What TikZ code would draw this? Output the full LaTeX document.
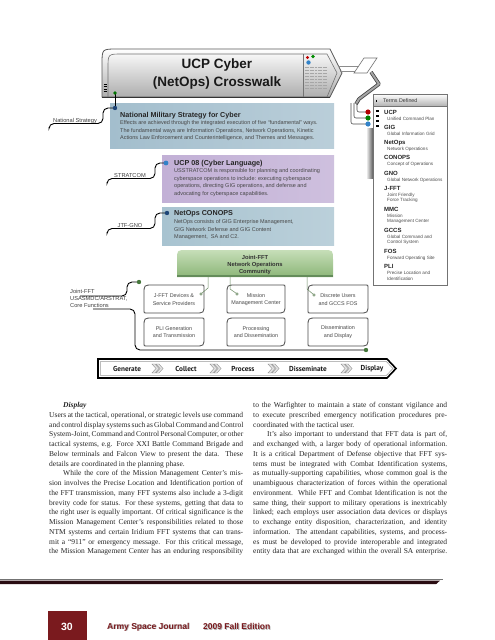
\documentclass[tikz,border=0pt]{standalone}
\usepackage{fontspec}
\setmainfont{Liberation Serif}
\newfontfamily\dsans{Liberation Sans}
\newfontfamily\ptsans{PT Sans}
\definecolor{bxblue}{RGB}{163,190,205}
\definecolor{bxpurple}{RGB}{194,176,214}
\definecolor{bxblueb}{RGB}{168,195,208}
\definecolor{grtop}{RGB}{198,222,184}
\definecolor{grbot}{RGB}{140,182,120}
\definecolor{grline}{RGB}{100,140,90}
\definecolor{mar}{RGB}{122,26,30}
\definecolor{rulec}{RGB}{42,12,18}
\definecolor{dotgreen}{RGB}{70,120,60}
\definecolor{dotblue}{RGB}{50,130,200}
\definecolor{dotnavy}{RGB}{30,70,120}
\newcommand{\jl}[1]{\makebox[194pt][s]{#1}}
\newcommand{\leafbox}[4]{%
  \draw[leafline] (#1,#2+9) .. controls (#1,#2) .. (#1+9,#2) -- (#3-2,#2)
    .. controls (#3,#2) .. (#3,#2+2) -- (#3,#4-9) .. controls (#3,#4) .. (#3-9,#4)
    -- (#1+2,#4) .. controls (#1,#4) .. (#1,#4-2) -- cycle;}
\newcommand{\chev}[1]{%
  \foreach \dx in {0,4}{\path[draw=black!45, fill=black!10, line width=0.4]
    (#1+\dx-4,364) -- (#1+\dx-1,364) -- (#1+\dx+3,368.5) -- (#1+\dx-1,373)
    -- (#1+\dx-4,373) -- (#1+\dx,368.5) -- cycle;}}
\newcommand{\term}[4]{%
  \node[termhd] (#1) at (384,#2+2.1) {#3};
  \node[termdef] (#1d) at (387,#2+4.5) {#4};}
\begin{document}
\begin{tikzpicture}[x=1pt,y=-1pt,
  lbl/.style={font=\dsans\fontsize{5.7}{7.3}\selectfont, text=black!75, inner sep=0},
  conn/.style={draw=black, line width=0.9, rounded corners=5},
  boxtitle/.style={font=\dsans\bfseries\fontsize{7.2}{8}\selectfont, text=black!85, inner sep=0, anchor=base west},
  boxbody/.style={font=\dsans\fontsize{5.5}{7.4}\selectfont, text=black!72, inner sep=0, anchor=north west, align=left},
  leafline/.style={draw=black!70, line width=0.8, fill=white},
  flowtxt/.style={font=\dsans\fontsize{5.4}{7.4}\selectfont, text=black!72, inner sep=0, align=center},
  barlbl/.style={font=\ptsans\bfseries\fontsize{7.2}{8}\selectfont, text=black!90, inner sep=0},
  termhd/.style={font=\dsans\bfseries\fontsize{6}{7}\selectfont, text=black!85, inner sep=0, anchor=base west},
  termdef/.style={font=\dsans\fontsize{4.6}{5.5}\selectfont, text=black!70, inner sep=0, anchor=north west, align=left},
  thin/.style={draw=grline!80!gray, line width=0.5},
  bodytxt/.style={font=\fontsize{7.5}{9.75}\selectfont, text=black!85, inner sep=0, anchor=north west, align=left}]
\useasboundingbox (0,0) rectangle (495,640);
\fill[white] (0,0) rectangle (495,640);

% ---------- title tab ----------
\path[draw=black!65, line width=0.8, top color=white, bottom color=black!32]
  (102,97) -- (102,64) .. controls (102,49) .. (117,49) -- (330,49) -- (342,73) -- (330,97) -- cycle;
\draw[black!55, line width=0.6]
  (108,97) -- (108,68) .. controls (108,54) .. (122,54) -- (327,54) -- (337,73) -- (327,97);
\draw[black!55, line width=0.6] (303,54) -- (303,97);
\draw[black!80, line width=1] (102,97) -- (330,97);
\foreach \yy in {84,86.5,89,91.5} \draw[black, line width=0.6] (103.5,\yy) -- (106.5,\yy);
% icon
\fill[red!75!black] (307.5,57.5) circle (1.6);
\fill[green!55!black] (313,56.5) circle (1.8);
\fill[dotblue] (308.5,62.5) circle (2.2);
\foreach \yy in {67,70,73,76,79,82,85,88} \draw[black!35, line width=0.6, dash pattern=on 2pt off 0.6pt] (304.5,\yy) -- (327,\yy);
\node[font=\dsans\bfseries\fontsize{13.5}{18}\selectfont, align=center, text=black!90] (title) at (217,74) {UCP Cyber\\(NetOps) Crosswalk};
% link to tab and cable
\draw[black!45, line width=0.6] (338,66) -- (359,66) (340,71) -- (356,71);
\path[draw=black!55, fill=white, line width=0.6] (354,73) -- (364,58) -- (377,58) -- (367,73) -- cycle;
\coordinate (cabA) at (371,72);
\coordinate (cabB) at (379,84);
\coordinate (cabC) at (359,99);
\coordinate (cabD) at (356,104);
\draw[black!75, line width=3.6, line join=round] (cabA) -- (cabB) -- (cabC) -- (cabD);
\draw[black!35, line width=2, line join=round] (cabA) -- (cabB) -- (cabC) -- (cabD);
\draw[black!70, line width=0.6, rounded corners=2] (357,103) -- (357,112) -- (368,112);
\draw[black!70, line width=0.6, rounded corners=2] (354,103) -- (354,118) -- (368,118);
\draw[black!70, line width=0.6, rounded corners=2] (351,103) -- (351,124) -- (368,124);

% ---------- terms box ----------
\shade[left color=white, right color=black!65] (366,128) rectangle (373,178);
\node[draw=black!55, line width=0.9, fill=white, minimum width=74pt, minimum height=191pt, anchor=north west, inner sep=0] (terms) at (373,94) {};
\path[top color=white, bottom color=black!30, draw=black!55, line width=0.6] (373,94) rectangle (447,106);
\fill[black] (375.8,100) rectangle (377.3,101.5);
\node[font=\dsans\fontsize{5.3}{6}\selectfont, text=black!80, anchor=west, inner sep=0] (termshd) at (383,100.5) {Terms Defined};
\foreach \yy in {109.5,114.5,119.5,124.5} \fill[black] (376,\yy) rectangle (378.6,\yy+2.6);
\fill[red!70!black] (368,112) circle (2.6);
\fill[green!50!black] (368,118) circle (2.6);
\fill[dotblue] (368,124) circle (2.6);
\term{tucp}{112}{UCP}{Unified Command Plan}
\term{tgig}{127}{GIG}{Global Information Grid}
\term{tnet}{142.5}{NetOps}{Network Operations}
\term{tcon}{157.5}{CONOPS}{Concept of Operations}
\term{tgno}{173}{GNO}{Global Network Operations}
\term{tjfft}{188}{J-FFT}{Joint Friendly\\Force Tracking}
\term{tmmc}{209}{MMC}{Mission\\Management Center}
\term{tgccs}{230}{GCCS}{Global Command and\\Control System}
\term{tfos}{251}{FOS}{Forward Operating Site}
\term{tpli}{266.5}{PLI}{Precise Location and\\Identification}

% ---------- strategy boxes ----------
\node[minimum width=224pt, minimum height=45pt, anchor=north west, inner sep=0, left color=bxblue, right color=bxblue!75!white] (nms) at (110,103) {};
\node[boxtitle] (nmsT) at (120,117.6) {National Military Strategy for Cyber};
\node[boxbody] (nmsB) at (120,120.8) {Effects are achieved through the integrated execution of five “fundamental” ways.\\The fundamental ways are Information Operations, Network Operations, Kinetic\\Actions Law Enforcement and Counterintelligence, and Themes and Messages.};

\node[minimum width=172pt, minimum height=47pt, anchor=north west, inner sep=0, left color=bxpurple, right color=bxpurple!80!white] (ucp) at (162,155) {};
\node[boxtitle] (ucpT) at (174,165.6) {UCP 08 (Cyber Language)};
\node[boxbody] (ucpB) at (174,168.8) {USSTRATCOM is responsible for planning and coordinating\\cyberspace operations to include: executing cyberspace\\operations, directing GIG operations, and defense and\\advocating for cyberspace capabilities.};

\node[minimum width=172pt, minimum height=38pt, anchor=north west, inner sep=0, left color=bxblueb, right color=bxblueb!78!white] (conops) at (162,207) {};
\node[boxtitle] (conT) at (174,215.6) {NetOps CONOPS};
\node[boxbody] (conB) at (174,219.8) {NetOps consists of GIG Enterprise Management,\\GIG Network Defense and GIG Content\\Management,\ \ SA and C2.};

% community box
\path[top color=grtop, bottom color=grbot]
  (177,277) -- (177,260) .. controls (177,250) .. (187,250) -- (323,250) .. controls (333,250) .. (333,260) -- (333,277) -- cycle;
\draw[grline, line width=1.2] (177,276) -- (333,276);
\node[font=\dsans\bfseries\fontsize{5.8}{7}\selectfont, align=center, text=black!80, inner sep=0] (comm) at (255,265) {Joint-FFT\\Network Operations\\Community};

% ---------- labels and connectors ----------
\node[lbl, anchor=base] (lns) at (75,122.8) {National Strategy};
\node[lbl, anchor=base] (lstr) at (130,177.8) {STRATCOM};
\node[lbl, anchor=base] (ljtf) at (130,227.8) {JTF-GNO};
\node[lbl, anchor=north west, align=left] (ljf) at (70,289) {Joint-FFT\\USASMDC/ARSTRAT,\\Core Functions};
\coordinate (dTitle) at (115,93);
\coordinate (dNms) at (115,108);
\coordinate (dUcp) at (166,163);
\coordinate (dCon) at (167,213);
\coordinate (dJf) at (139,282);
\coordinate (dBar) at (366,350);
\draw[conn] (49,127) -- (49,123.5) -- (103,123.5) -- (103,108) -- (dNms);
\draw[black, line width=0.9] (dNms) -- (dTitle);
\draw[conn] (107,182) -- (107,178.5) -- (155,178.5) -- (155,163) -- (dUcp);
\draw[conn] (107,232) -- (107,228.5) -- (155,228.5) -- (155,213) -- (dCon);
\draw[conn] (80,296) -- (127,296) -- (127,282) -- (dJf);
\draw[conn] (93,309) -- (135,309) -- (135,350) -- (dBar);
\fill[green!45!black] (dTitle) circle (1.8);
\fill[dotnavy] (dNms) circle (2.2);
\fill[dotblue] (dUcp) circle (2.4);
\fill[dotnavy] (dCon) circle (2.2);
\fill[dotgreen] (dJf) circle (2.2);
\fill[dotgreen] (dBar) circle (2.2);

% ---------- flow boxes ----------
\leafbox{144}{285}{204}{313}
\leafbox{227}{285}{285}{313}
\leafbox{308}{285}{368}{313}
\leafbox{144}{318}{204}{346}
\leafbox{227}{318}{285}{346}
\leafbox{308}{318}{368}{346}
\node[flowtxt] (f1) at (174,299.5) {J-FFT Devices \&\\Service Providers};
\node[flowtxt] (f2) at (256,299.5) {Mission\\Management Center};
\node[flowtxt] (f3) at (338,299.5) {Discrete Users\\and GCCS FOS};
\node[flowtxt] (f4) at (174,332) {PLI Generation\\and Transmission};
\node[flowtxt] (f5) at (256,332) {Processing\\and Dissemination};
\node[flowtxt] (f6) at (338,332) {Dissemination\\and Display};
\draw[thin] (208,277) -- (208,288) -- (201.5,293.5);
\draw[thin] (230,277) -- (230,289) -- (236.5,293.5);
\draw[thin] (307,277) -- (307,289) -- (313.5,294.5);
\draw[thin, fill=white] (201,294) circle (1.3) (237,294) circle (1.3) (314,295) circle (1.3);

% ---------- process bar ----------
\path[draw=black, line width=1.6, fill=white] (98,359) -- (387,359) -- (396,368.5) -- (387,378) -- (98,378) -- cycle;
\draw[black!40, line width=0.5] (100.5,361.3) -- (386,361.3) -- (393,368.5) -- (386,375.7) -- (100.5,375.7) -- cycle;
\node[barlbl] (bgen) at (127,368.5) {Generate};
\node[barlbl] (bcol) at (186,368.5) {Collect};
\node[barlbl] (bpro) at (243,368.5) {Process};
\node[barlbl] (bdis) at (308,368.5) {Disseminate};
\node[barlbl] (bdsp) at (372,368.5) {Display};
\chev{156}
\chev{214}
\chev{272}
\chev{345}

% ---------- body text ----------
\node[bodytxt] (colL) at (49,402.1) {%
\hspace*{14pt}\textbf{\textit{Display}}\\
\jl{Users at the tactical, operational, or strategic levels use command}\\
\jl{and control display systems such as Global Command and Control}\\
\jl{System-Joint, Command and Control Personal Computer, or other}\\
\jl{tactical systems, e.g. Force XXI Battle Command Brigade and}\\
\jl{Below terminals and Falcon View to present the data. These}\\
details are coordinated in the planning phase.\\
\jl{\hspace*{14pt}While the core of the Mission Management Center’s mis-}\\
\jl{sion involves the Precise Location and Identification portion of}\\
\jl{the FFT transmission, many FFT systems also include a 3-digit}\\
\jl{brevity code for status. For these systems, getting that data to}\\
\jl{the right user is equally important. Of critical significance is the}\\
\jl{Mission Management Center’s responsibilities related to those}\\
\jl{NTM systems and certain Iridium FFT systems that can trans-}\\
\jl{mit a “911” or emergency message. For this critical message,}\\
\jl{the Mission Management Center has an enduring responsibility}};
\node[bodytxt] (colR) at (253,402.1) {%
\jl{to the Warfighter to maintain a state of constant vigilance and}\\
\jl{to execute prescribed emergency notification procedures pre-}\\
coordinated with the tactical user.\\
\jl{\hspace*{14pt}It’s also important to understand that FFT data is part of,}\\
\jl{and exchanged with, a larger body of operational information.}\\
\jl{It is a critical Department of Defense objective that FFT sys-}\\
\jl{tems must be integrated with Combat Identification systems,}\\
\jl{as mutually-supporting capabilities, whose common goal is the}\\
\jl{unambiguous characterization of forces within the operational}\\
\jl{environment. While FFT and Combat Identification is not the}\\
\jl{same thing, their support to military operations is inextricably}\\
\jl{linked; each employs user association data devices or displays}\\
\jl{to exchange entity disposition, characterization, and identity}\\
\jl{information. The attendant capabilities, systems, and process-}\\
\jl{es must be developed to provide interoperable and integrated}\\
\jl{entity data that are exchanged within the overall SA enterprise.}};

% ---------- rule and footer ----------
\draw[black!55, line width=0.9] (0,579.3) -- (443,579.3);
\fill[rulec] (0,580.6) -- (440,580.6) -- (436,584.2) -- (0,584.2) -- cycle;
\fill[mar] (48,611) rectangle (87,640);
\node[font=\dsans\bfseries\fontsize{10.5}{12}\selectfont, text=white, inner sep=0] (pnum) at (67,626.5) {30};
\node[font=\dsans\bfseries\fontsize{8.5}{10}\selectfont, text=black!30, anchor=west, inner sep=0] at (107.8,627.6) {Army Space Journal};
\node[font=\dsans\bfseries\fontsize{8.5}{10}\selectfont, text=mar, anchor=west, inner sep=0] (jname) at (107,626.8) {Army Space Journal};
\node[font=\dsans\bfseries\fontsize{8.5}{10}\selectfont, text=black!30, anchor=west, inner sep=0] at (203.8,627.6) {2009 Fall Edition};
\node[font=\dsans\bfseries\fontsize{8.5}{10}\selectfont, text=mar, anchor=west, inner sep=0] (jed) at (203,626.8) {2009 Fall Edition};
\end{tikzpicture}
\end{document}
